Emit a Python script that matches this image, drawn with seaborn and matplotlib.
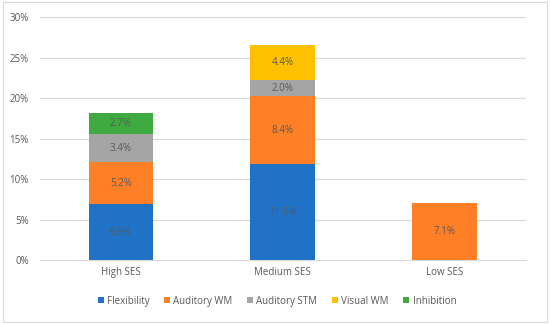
import matplotlib
matplotlib.use("Agg")
import matplotlib.pyplot as plt
import seaborn as sns
import pandas as pd
from matplotlib.patches import Rectangle
from matplotlib.ticker import PercentFormatter

groups = ["High SES", "Medium SES", "Low SES"]
series = ["Flexibility", "Auditory WM", "Auditory STM", "Visual WM", "Inhibition"]
flexibility = [6.9, 11.8, 0.0]
auditory_wm = [5.2, 8.4, 7.1]
auditory_stm = [3.4, 2.0, 0.0]
visual_wm = [0.0, 4.4, 0.0]
inhibition = [2.7, 0.0, 0.0]
colors = ["#1F72C6", "#FF7F27", "#A5A5A5", "#FFC000", "#3FAA3F"]

sns.set_style("white")
plt.rcParams["font.family"] = ["Open Sans", "DejaVu Sans"]

df = pd.DataFrame({"group": groups, "Flexibility": flexibility, "Auditory WM": auditory_wm,
                   "Auditory STM": auditory_stm, "Visual WM": visual_wm, "Inhibition": inhibition})
cum = df[series].cumsum(axis=1)

fig = plt.figure(figsize=(5.5, 3.24), dpi=100)
ax = fig.add_axes([0.0727, 0.1975, 0.883, 0.75])

# stacked bars: draw cumulative totals from top layer down
for name, col in reversed(list(zip(series, colors))):
    sns.barplot(x=df["group"], y=cum[name], color=col, width=0.4, ax=ax,
                saturation=1, label=name, zorder=2, linewidth=0, edgecolor=col)

# segment labels
for i in range(len(groups)):
    bottom = 0
    for name in series:
        v = df.loc[i, name]
        if v > 0:
            ax.text(i, bottom + v / 2, f"{v:.1f}%", ha="center", va="center",
                    fontsize=7, color="#595959", zorder=3)
        bottom += v

ax.set_ylim(0, 30)
ax.set_yticks(range(0, 31, 5))
ax.yaxis.set_major_formatter(PercentFormatter(decimals=0))
ax.grid(axis="y", color="#D9D9D9", linewidth=0.8, zorder=0)
ax.set_axisbelow(True)
ax.set_xlabel("")
ax.set_ylabel("")
for s in ["top", "right", "left"]:
    ax.spines[s].set_visible(False)
ax.spines["bottom"].set_color("#D9D9D9")
ax.tick_params(axis="both", length=0, labelsize=7, colors="#595959")
ax.tick_params(axis="y", pad=8)
ax.tick_params(axis="x", pad=5)

handles, labels = ax.get_legend_handles_labels()
order = [labels.index(s) for s in series]
ax.legend([handles[k] for k in order], [labels[k] for k in order],
          loc="center", bbox_to_anchor=(0.488, -0.17), ncol=5, frameon=False,
          fontsize=7, labelcolor="#595959", handlelength=0.6, handleheight=0.6,
          handletextpad=0.35, columnspacing=1.5)

fig.patches.append(Rectangle((0.005, 0.005), 0.99, 0.99, transform=fig.transFigure,
                             fill=False, edgecolor="#D9D9D9", linewidth=0.8))

fig.savefig("out.png", dpi=100)
